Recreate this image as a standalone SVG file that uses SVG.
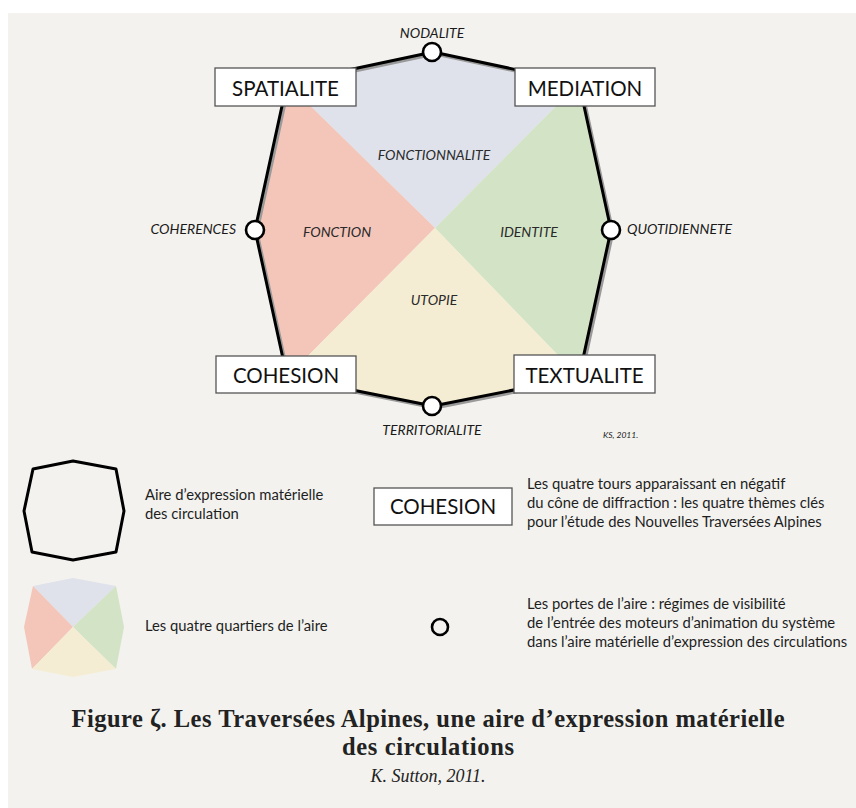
<svg xmlns="http://www.w3.org/2000/svg" width="856" height="808" viewBox="0 0 856 808">
<style>
.box{fill:#fff;stroke:#555;stroke-width:1.3}
.tb{font-family:Lato,"Open Sans",sans-serif;font-size:20.5px;fill:#111;text-anchor:middle}
.it{font-family:Lato,"Open Sans",sans-serif;font-style:italic;font-size:14px;fill:#1a1a1a}
.in{font-family:Lato,"Open Sans",sans-serif;font-style:italic;font-size:14px;fill:#2a2a2a;text-anchor:middle}
.lg{font-family:Lato,"Open Sans",sans-serif;font-size:14.8px;fill:#1e1e1e}
.gate{fill:#fff;stroke:#000;stroke-width:2.6}
.cap{font-family:"Liberation Serif",serif;fill:#222;text-anchor:middle}
.q1{fill:#dfe2ea}.q2{fill:#f4c5b9}.q3{fill:#d3e3c5}.q4{fill:#f5edd3}
</style>
<rect x="0" y="0" width="856" height="808" fill="#fff"/>
<rect x="8" y="13" width="848" height="795" fill="#f3f2ee"/>

<g id="area">
  <polygon class="q1" points="435,228 287,83 433,52 579,83"/>
  <polygon class="q2" points="435,228 287,83 255,230 287,377"/>
  <polygon class="q3" points="435,228 579,83 611,230 579,377"/>
  <polygon class="q4" points="435,228 287,377 433,406 579,377"/>
  <polygon points="433,52 579,83 611,230 579,377 433,406 287,377 255,230 287,83" fill="none" stroke="#9a9a9a" stroke-width="3" stroke-linejoin="round" transform="translate(2,2)"/>
  <polygon points="433,52 579,83 611,230 579,377 433,406 287,377 255,230 287,83" fill="none" stroke="#000" stroke-width="3" stroke-linejoin="round"/>
  <text class="in" x="434" y="160">FONCTIONNALITE</text>
  <text class="in" x="337" y="237">FONCTION</text>
  <text class="in" x="529" y="237">IDENTITE</text>
  <text class="in" x="434" y="305">UTOPIE</text>
</g>

<g id="gate-nodalite"><circle class="gate" cx="432" cy="52" r="9"/><text class="it" x="432" y="38" text-anchor="middle">NODALITE</text></g>
<g id="gate-coherences"><circle class="gate" cx="255" cy="230" r="9"/><text class="it" x="236" y="234" text-anchor="end">COHERENCES</text></g>
<g id="gate-quotidiennete"><circle class="gate" cx="611" cy="230" r="9"/><text class="it" x="627" y="234">QUOTIDIENNETE</text></g>
<g id="gate-territorialite"><circle class="gate" cx="432" cy="406" r="9"/><text class="it" x="432" y="435" text-anchor="middle">TERRITORIALITE</text></g>

<g id="spatialite"><rect class="box" x="215" y="68" width="141" height="38"/><text class="tb" x="285.5" y="96">SPATIALITE</text></g>
<g id="mediation"><rect class="box" x="515" y="68" width="140" height="38"/><text class="tb" x="585" y="96">MEDIATION</text></g>
<g id="cohesion"><rect class="box" x="216" y="356" width="140" height="37"/><text class="tb" x="286" y="383">COHESION</text></g>
<g id="textualite"><rect class="box" x="514" y="355" width="141" height="38"/><text class="tb" x="584.5" y="383">TEXTUALITE</text></g>

<text class="it" x="603" y="438" style="font-size:8.5px">KS, 2011.</text>

<g id="legend-area">
  <polygon points="73,461 116,469 124,511 116,552 73,560 32,552 24,511 33,469" fill="none" stroke="#000" stroke-width="3" stroke-linejoin="round"/>
  <text class="lg" x="145" y="500">Aire d’expression matérielle</text>
  <text class="lg" x="145" y="519">des circulation</text>
</g>
<g id="legend-tower">
  <rect class="box" x="374" y="488" width="138" height="37"/>
  <text class="tb" x="443" y="514">COHESION</text>
  <text class="lg" x="527" y="489">Les quatre tours apparaissant en négatif</text>
  <text class="lg" x="527" y="508">du cône de diffraction : les quatre thèmes clés</text>
  <text class="lg" x="527" y="527">pour l’étude des Nouvelles Traversées Alpines</text>
</g>
<g id="legend-quarters">
  <polygon class="q1" points="73,627 33,586 73,578 116,586"/>
  <polygon class="q2" points="73,627 33,586 24,627 32,669"/>
  <polygon class="q3" points="73,627 116,586 124,627 116,669"/>
  <polygon class="q4" points="73,627 32,669 73,677 116,669"/>
  <text class="lg" x="145" y="631">Les quatre quartiers de l’aire</text>
</g>
<g id="legend-gate">
  <circle cx="440" cy="627" r="8" fill="none" stroke="#000" stroke-width="2.6"/>
  <text class="lg" x="527" y="609">Les portes de l’aire : régimes de visibilité</text>
  <text class="lg" x="527" y="628">de l’entrée des moteurs d’animation du système</text>
  <text class="lg" x="527" y="647">dans l’aire matérielle d’expression des circulations</text>
</g>

<g id="caption">
  <text class="cap" x="428" y="727" font-size="24.5" font-weight="bold" textLength="713" lengthAdjust="spacing">Figure ζ. Les Traversées Alpines, une aire d’expression matérielle</text>
  <text class="cap" x="428" y="755" font-size="24.5" font-weight="bold" textLength="172" lengthAdjust="spacing">des circulations</text>
  <text class="cap" x="428" y="782" font-size="18" font-style="italic">K. Sutton, 2011.</text>
</g>
</svg>
